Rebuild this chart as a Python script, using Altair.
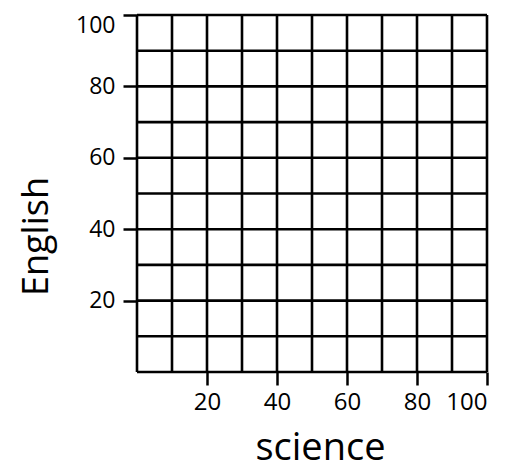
import altair as alt
import pandas as pd

grid_values = [0, 10, 20, 30, 40, 50, 60, 70, 80, 90, 100]
tick_values = [20, 40, 60, 80, 100]
x_title = "science"
y_title = "English"

grid_df = pd.DataFrame({"v": grid_values})
FONT = "Open Sans"

x_scale = alt.Scale(domain=[0, 100], nice=False, zero=True)
y_scale = alt.Scale(domain=[0, 100], nice=False, zero=True)

vlines = alt.Chart(grid_df).mark_rule(color="black", strokeWidth=2.6).encode(
    x=alt.X("v:Q", scale=x_scale,
            axis=alt.Axis(values=tick_values, title=x_title, grid=False, domain=False,
                          tickSize=13, tickWidth=2.5, tickColor="black",
                          labelFontSize=24, labelFont=FONT, labelColor="black",
                          labelPadding=5,
                          titleFontSize=38, titleFont=FONT, titleFontWeight="normal",
                          titleColor="black", titleY=87, titleX=183,
                          titleBaseline="alphabetic"))
)

hlines = alt.Chart(grid_df).mark_rule(color="black", strokeWidth=2.6).encode(
    y=alt.Y("v:Q", scale=y_scale,
            axis=alt.Axis(values=tick_values, title=y_title, grid=False, domain=False,
                          tickSize=14, tickWidth=2.5, tickColor="black",
                          labelFontSize=23, labelFont=FONT, labelColor="black",
                          labelPadding=8,
                          labelOffset={"condition": {"test": "datum.value == 100", "value": 10}, "value": 0},
                          titleFontSize=36, titleFont=FONT, titleFontWeight="normal",
                          titleColor="black", titleX=-90, titleY=221,
                          titleBaseline="alphabetic"))
)

chart = alt.layer(vlines, hlines).properties(
    width=350, height=357,
    autosize=alt.AutoSizeParams(type="none"),
    padding={"left": 129, "top": 7, "right": 13, "bottom": 100},
).configure_view(stroke=None).configure(background="white")

chart.save("out.html", embed_options={"renderer": "svg", "actions": False})
